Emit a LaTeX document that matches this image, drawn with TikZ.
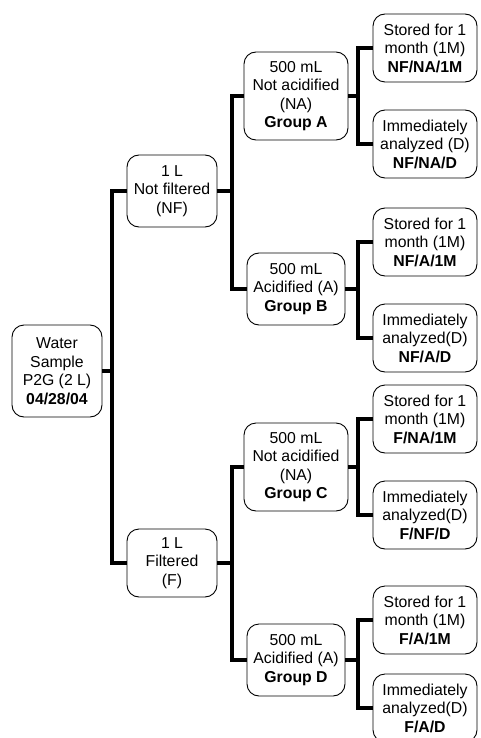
\documentclass[tikz,border=0pt]{standalone}
\usepackage{fontspec}
\setmainfont{Liberation Sans}

\begin{document}
\begin{tikzpicture}[x=1pt,y=-1pt,
  box/.style={draw,rounded corners=12pt,line width=0.9pt,align=center,inner sep=0pt,
    font=\fontsize{15.8}{18.5}\selectfont},
  link/.style={line width=3.2pt}]
\useasboundingbox (0,0) rectangle (480,738);

% Sample
\node[box,minimum width=90pt,minimum height=92pt] (root) at (57,371)
  {Water\\Sample\\P2G (2 L)\\\textbf{04/28/04}};

% Filtration
\node[box,minimum width=90pt,minimum height=72pt] (nf) at (172,191) {1 L\\Not filtered\\(NF)};
\node[box,minimum width=90pt,minimum height=68pt] (f) at (172,563) {1 L\\Filtered\\(F)};

% Groups
\node[box,minimum width=104pt,minimum height=88pt] (ga) at (296,96)
  {500 mL\\Not acidified\\(NA)\\\textbf{Group A}};
\node[box,minimum width=98pt,minimum height=72pt] (gb) at (296,289)
  {500 mL\\Acidified (A)\\\textbf{Group B}};
\node[box,minimum width=104pt,minimum height=88pt] (gc) at (296,467)
  {500 mL\\Not acidified\\(NA)\\\textbf{Group C}};
\node[box,minimum width=98pt,minimum height=72pt] (gd) at (296,660)
  {500 mL\\Acidified (A)\\\textbf{Group D}};

% Storage
\node[box,minimum width=104pt,minimum height=68pt] (a1m) at (425,48)
  {Stored for 1\\month (1M)\\\textbf{NF/NA/1M}};
\node[box,minimum width=104pt,minimum height=68pt] (ad) at (425,144)
  {Immediately\\analyzed (D)\\\textbf{NF/NA/D}};
\node[box,minimum width=104pt,minimum height=68pt] (b1m) at (425,242)
  {Stored for 1\\month (1M)\\\textbf{NF/A/1M}};
\node[box,minimum width=104pt,minimum height=68pt] (bd) at (425,338)
  {Immediately\\analyzed(D)\\\textbf{NF/A/D}};
\node[box,minimum width=104pt,minimum height=68pt] (c1m) at (425,419)
  {Stored for 1\\month (1M)\\\textbf{F/NA/1M}};
\node[box,minimum width=104pt,minimum height=68pt] (cd) at (425,515)
  {Immediately\\analyzed(D)\\\textbf{F/NF/D}};
\node[box,minimum width=104pt,minimum height=68pt] (d1m) at (425,620)
  {Stored for 1\\month (1M)\\\textbf{F/A/1M}};
\node[box,minimum width=104pt,minimum height=68pt] (dd) at (425,708)
  {Immediately\\analyzed(D)\\\textbf{F/A/D}};

% Trunks
\coordinate (t1) at (112,371);
\coordinate (t2) at (232,0);
\coordinate (t3) at (358,0);

% Lines
\draw[link] (root.east) -- (t1);
\draw[link] (nf.west) -| (t1) |- (f.west);

\draw[link] (nf.east) -- (nf.east -| t2);
\draw[link] (ga.west) -| (nf.east -| t2) |- (gb.west);
\draw[link] (f.east) -- (f.east -| t2);
\draw[link] (gc.west) -| (f.east -| t2) |- (gd.west);

\draw[link] (ga.east) -- (ga.east -| t3);
\draw[link] (a1m.west) -| (ga.east -| t3) |- (ad.west);
\draw[link] (gb.east) -- (gb.east -| t3);
\draw[link] (b1m.west) -| (gb.east -| t3) |- (bd.west);
\draw[link] (gc.east) -- (gc.east -| t3);
\draw[link] (c1m.west) -| (gc.east -| t3) |- (cd.west);
\draw[link] (gd.east) -- (gd.east -| t3);
\draw[link] (d1m.west) -| (gd.east -| t3) |- (dd.west);
\end{tikzpicture}
\end{document}
